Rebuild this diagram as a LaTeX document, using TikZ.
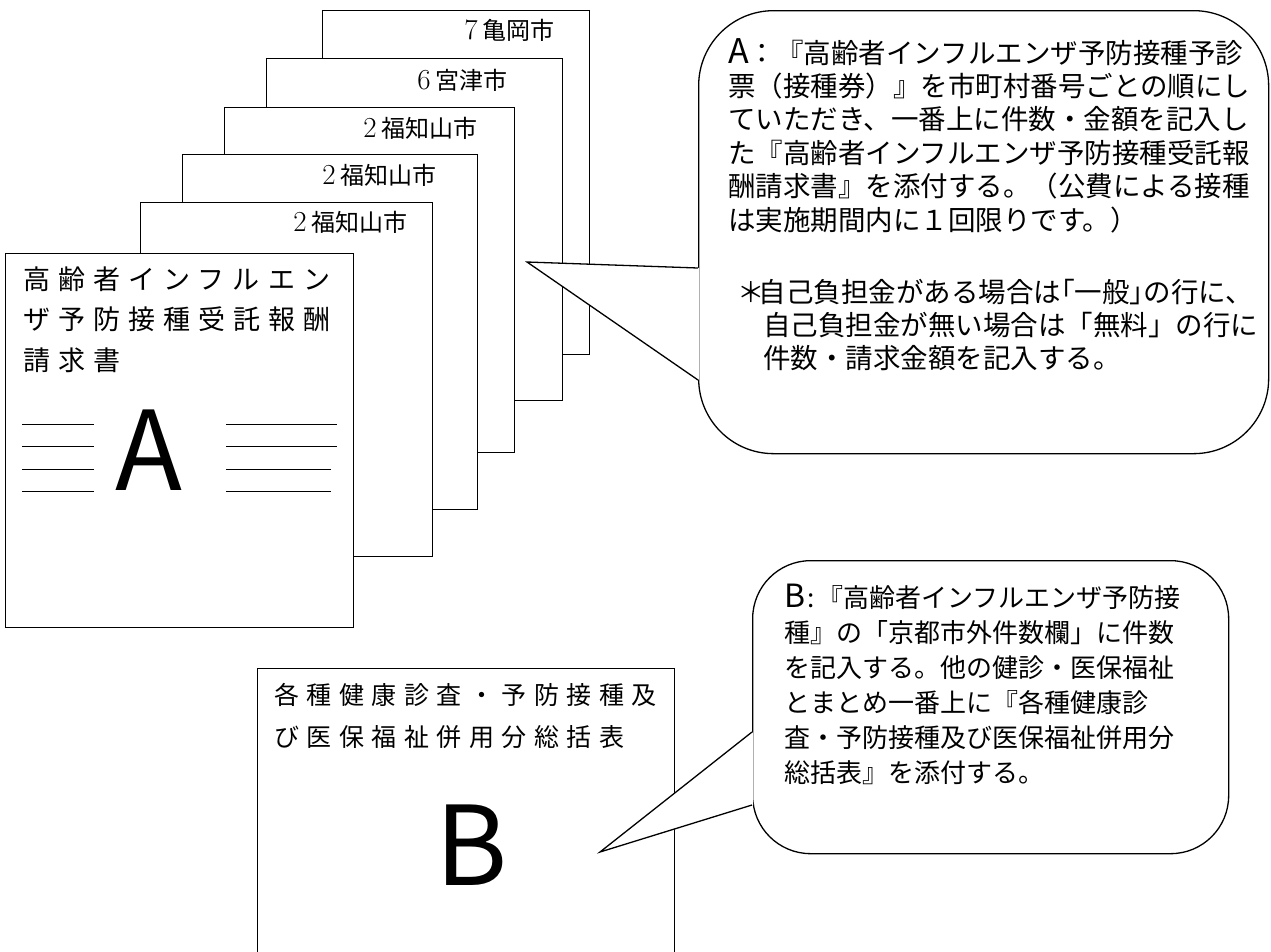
\documentclass[tikz,border=0pt]{standalone}
\usepackage{fontspec}
\newfontfamily\jp{Noto Sans CJK JP}
\newfontfamily\jpwide[LetterSpace=30]{Noto Sans CJK JP}
\usetikzlibrary{positioning}
\newcommand\bigA{{\fontsize{34}{34}\selectfont A}}
\newcommand\bigB{{\fontsize{32}{32}\selectfont B}}
\newcommand\citynum[1]{{\fontsize{29}{29}\selectfont #1}\hspace{5pt}}
\tikzset{
x=1pt, y=-1pt, % one unit is one pixel of the sheet, y grows downwards
page/.style={draw, fill=white, line width=1.3pt, anchor=north west, inner sep=0pt}, % one sheet of paper
callout/.style={draw, fill=white, line width=1.3pt, anchor=north west, inner sep=0pt}, % speech bubble
tail/.style={line width=1.3pt, line join=miter}, % pointer of a bubble
city/.style={anchor=base east, inner sep=0pt, font=\fontsize{24}{24}\selectfont}, % number and city on a sheet
title/.style={anchor=base west, inner sep=0pt}, % title lines on a sheet
bigletter/.style={anchor=base, inner sep=0pt, font=\jp\fontsize{110}{110}\selectfont}, % A and B
note/.style={anchor=base west, inner sep=0pt, font=\jp\fontsize{27.5}{27.5}\selectfont}, % text in bubble A
noteb/.style={anchor=base west, inner sep=0pt, font=\jp\fontsize{26}{26}\selectfont}, % text in bubble B
rule/.style={line width=0.9pt}, % writing lines beside the A
}
\begin{document}
\begin{tikzpicture}
\useasboundingbox (0,0) rectangle (1271,951);

% the stack of sheets, back to front
\node[page, minimum width=267pt, minimum height=344pt] (p7) at (322,10) {};
\node[city] at (555,39) {\citynum{7}{\jp 亀岡市}};
\node[page, minimum width=296pt, minimum height=342pt] (p6) at (266,58) {};
\node[city] at (508,89) {\citynum{6}{\jp 宮津市}};
\node[page, minimum width=290pt, minimum height=345pt] (p2c) at (224,107) {};
\node[city] at (478,137) {\citynum{2}{\jp 福知山市}};
\node[page, minimum width=295pt, minimum height=355pt] (p2b) at (182,154) {};
\node[city] at (437,184) {\citynum{2}{\jp 福知山市}};
\node[page, minimum width=292pt, minimum height=354pt] (p2a) at (140,202) {};
\node[city] at (408,231) {\citynum{2}{\jp 福知山市}};

% cover sheet A
\node[page, minimum width=348pt, minimum height=374pt] (reqA) at (5,253) {};
\foreach \t [count=\i] in {高齢者インフルエン, ザ予防接種受託報酬, 請求書}
    \node[title, font=\jpwide\fontsize{27}{27}\selectfont] at (23,{289+40.5*(\i-1)}) {\t};
\node[bigletter] (letA) at (149,490) {A};
\foreach \y in {424,446} \draw[rule] (22,\y) -- (94,\y) (226,\y) -- (337,\y);
\foreach \y in {469,491} \draw[rule] (22,\y) -- (94,\y) (226,\y) -- (331,\y);

% summary sheet B
\node[page, minimum width=417pt, minimum height=302pt] (sumB) at (257,668) {};
\foreach \t [count=\i] in {各種健康診査・予防接種及, び医保福祉併用分総括表}
    \node[title, font=\jpwide\fontsize{25}{25}\selectfont] at (274,{704+42*(\i-1)}) {\t};
\node[bigletter] (letB) at (472,885) {B};

% bubble A
\node[callout, rounded corners=75pt, minimum width=570pt, minimum height=443pt] (calloutA) at (698,10) {};
\coordinate (tipA) at (527,262);
\coordinate (a1) at (698,268);
\coordinate (a2) at (698,380);
\fill[white] (tipA) -- ([xshift=1.2pt]a1) -- ([xshift=1.2pt]a2) -- cycle;
\draw[tail] (a1) -- (tipA) -- (a2);
\foreach \t [count=\i] in {\bigA{}：『高齢者インフルエンザ予防接種予診,
        票（接種券）』を市町村番号ごとの順にし,
        ていただき、一番上に件数・金額を記入し,
        た『高齢者インフルエンザ予防接種受託報,
        酬請求書』を添付する。（公費による接種,
        は実施期間内に１回限りです。）}
    \node[note] at (728,{63+33.4*(\i-1)}) {\t};
\node[note] at (737,302) {＊\hspace{-6pt}自己負担金がある場合は｢一般｣の行に、};
\node[note] at (763,335) {自己負担金が無い場合は「無料」の行に};
\node[note] at (763,368) {件数・請求金額を記入する。};

% bubble B
\node[callout, rounded corners=58pt, minimum width=476pt, minimum height=293pt] (calloutB) at (752,560) {};
\coordinate (tipB) at (600,852);
\coordinate (b1) at (752,732);
\coordinate (b2) at (752,805);
\fill[white] (tipB) -- ([xshift=1.2pt]b1) -- ([xshift=1.2pt]b2) -- cycle;
\draw[tail] (b1) -- (tipB) -- (b2);
\foreach \t [count=\i] in {\bigB{}\hspace{2pt}:\hspace{3pt}『高齢者インフルエンザ予防接,
        種』の「京都市外件数欄」に件数,
        を記入する。他の健診・医保福祉,
        とまとめ一番上に『各種健康診,
        査・予防接種及び医保福祉併用分,
        総括表』を添付する。}
    \node[noteb] at (784,{607+35*(\i-1)}) {\t};
\end{tikzpicture}
\end{document}
